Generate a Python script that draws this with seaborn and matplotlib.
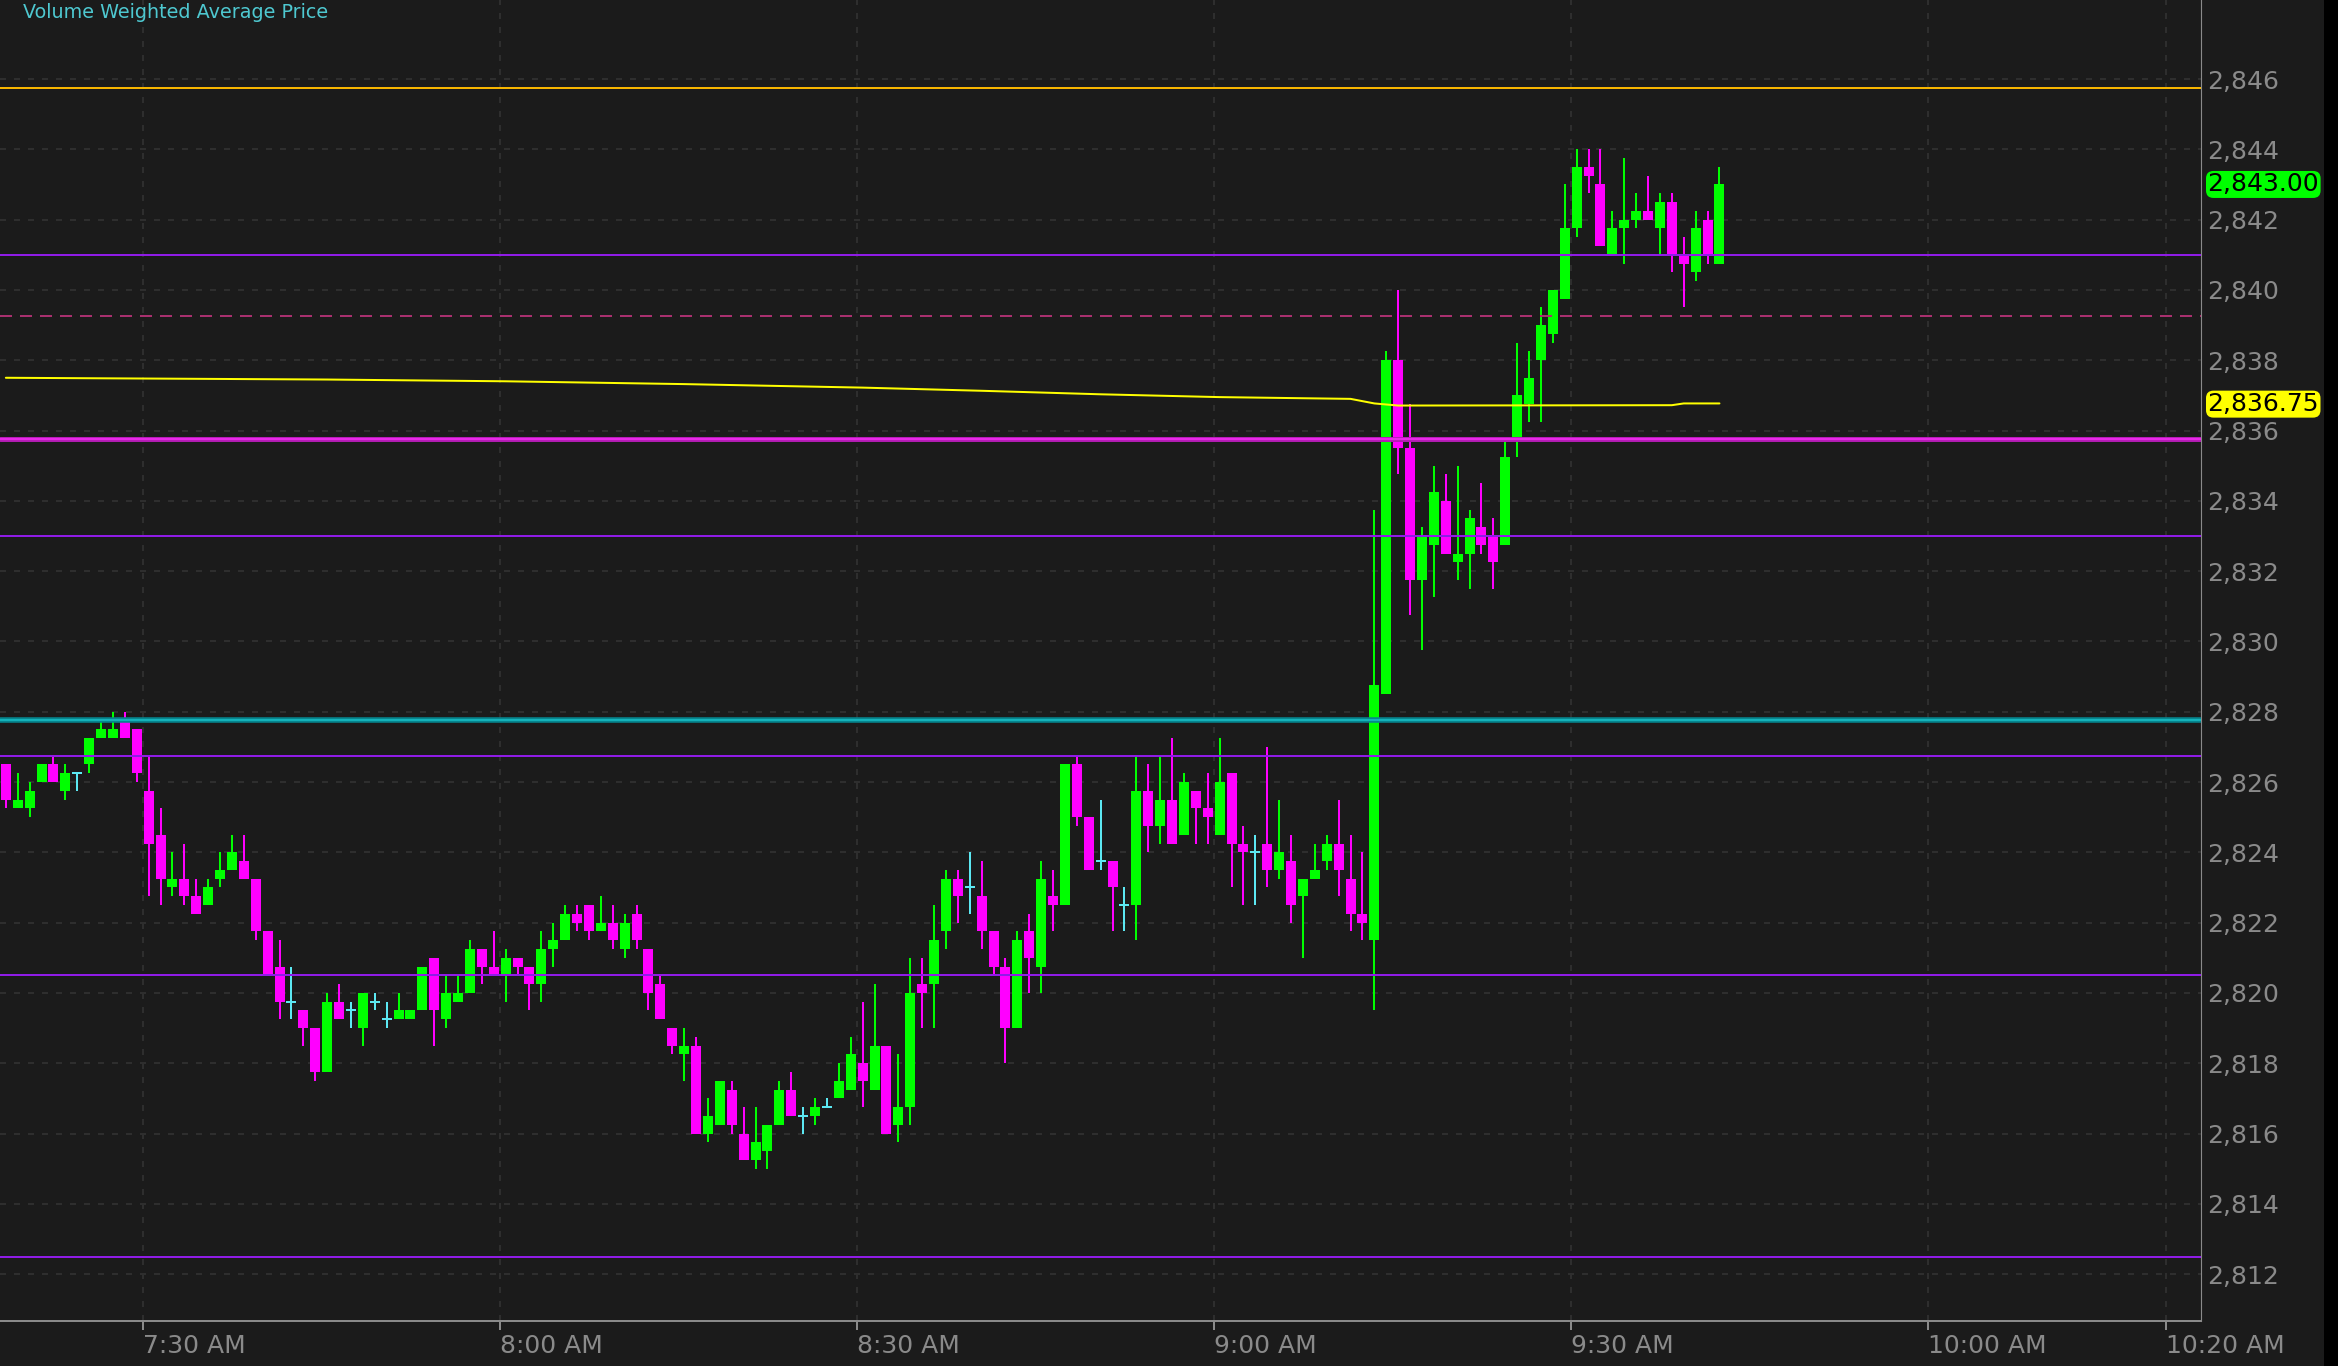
import matplotlib
matplotlib.use("Agg")
import matplotlib.pyplot as plt
import matplotlib.transforms as mtransforms
from matplotlib.patches import Rectangle
import matplotlib.ticker as mticker
import seaborn as sns
import pandas as pd

# 1-minute bars, first bar at 7:18 AM

first_bar = "7:18"

opens = [
    2826.5, 2825.25, 2825.25, 2826.0, 2826.5, 2825.75, 2826.25, 2826.5, 2827.25, 2827.25,
    2827.75, 2827.5, 2825.75, 2824.5, 2823.0, 2823.25, 2822.75, 2822.5, 2823.25, 2823.5,
    2823.75, 2823.25, 2821.75, 2820.75, 2819.75, 2819.5, 2819.0, 2817.75, 2819.75, 2819.5,
    2819.0, 2819.75, 2819.25, 2819.25, 2819.25, 2819.5, 2821.0, 2819.25, 2819.75, 2820.0,
    2821.25, 2820.75, 2820.5, 2821.0, 2820.75, 2820.25, 2821.25, 2821.5, 2822.25, 2822.5,
    2821.75, 2822.0, 2821.25, 2822.25, 2821.25, 2820.25, 2819.0, 2818.25, 2818.5, 2816.0,
    2816.25, 2817.25, 2816.0, 2815.25, 2815.5, 2816.25, 2817.25, 2816.5, 2816.5, 2816.75,
    2817.0, 2817.25, 2818.0, 2817.25, 2818.5, 2816.25, 2816.75, 2820.25, 2820.25, 2821.75,
    2823.25, 2823.0, 2822.75, 2821.75, 2820.75, 2819.0, 2821.75, 2820.75, 2822.75, 2822.5,
    2826.5, 2825.0, 2823.75, 2823.75, 2822.5, 2822.5, 2825.75, 2824.75, 2825.5, 2824.5,
    2825.75, 2825.25, 2824.5, 2826.25, 2824.25, 2824.0, 2824.25, 2823.5, 2823.75, 2822.75,
    2823.25, 2823.75, 2824.25, 2823.25, 2822.25, 2821.5, 2828.5, 2838.0, 2835.5, 2831.75,
    2832.75, 2834.0, 2832.25, 2832.5, 2833.25, 2833.0, 2832.75, 2835.75, 2836.75, 2838.0,
    2838.75, 2839.75, 2841.75, 2843.5, 2843.0, 2841.0, 2841.75, 2842.0, 2842.25, 2841.75,
    2842.5, 2841.0, 2840.5, 2842.0, 2840.75,
]

highs = [
    2826.5, 2826.25, 2826.0, 2826.5, 2826.75, 2826.5, 2826.25, 2827.25, 2827.75, 2828.0,
    2828.0, 2827.5, 2826.75, 2825.25, 2824.0, 2824.25, 2823.25, 2823.25, 2824.0, 2824.5,
    2824.5, 2823.25, 2821.75, 2821.5, 2820.75, 2819.5, 2819.0, 2820.0, 2820.25, 2819.75,
    2820.0, 2820.0, 2819.75, 2820.0, 2819.5, 2820.75, 2821.0, 2820.5, 2820.5, 2821.5,
    2821.25, 2821.75, 2821.25, 2821.0, 2820.75, 2821.75, 2822.0, 2822.5, 2822.5, 2822.5,
    2822.75, 2822.5, 2822.25, 2822.5, 2821.25, 2820.5, 2819.0, 2819.0, 2818.75, 2817.0,
    2817.5, 2817.5, 2816.75, 2816.75, 2816.25, 2817.5, 2817.75, 2816.75, 2817.0, 2817.0,
    2818.0, 2818.75, 2819.75, 2820.25, 2818.5, 2818.25, 2821.0, 2821.0, 2822.5, 2823.5,
    2823.5, 2824.0, 2823.75, 2821.75, 2821.0, 2821.75, 2822.25, 2823.75, 2823.5, 2826.5,
    2826.75, 2825.0, 2825.5, 2823.75, 2823.0, 2826.75, 2826.5, 2826.75, 2827.25, 2826.25,
    2825.75, 2826.25, 2827.25, 2826.25, 2824.75, 2824.5, 2827.0, 2825.5, 2824.5, 2823.25,
    2824.25, 2824.5, 2825.5, 2824.5, 2824.0, 2833.75, 2838.25, 2840.0, 2836.75, 2833.25,
    2835.0, 2834.75, 2835.0, 2833.75, 2834.5, 2833.5, 2835.75, 2838.5, 2838.25, 2839.5,
    2840.0, 2843.0, 2844.0, 2844.0, 2844.0, 2842.25, 2843.75, 2842.75, 2843.25, 2842.75,
    2842.75, 2841.5, 2842.25, 2842.25, 2843.5,
]

lows = [
    2825.25, 2825.25, 2825.0, 2826.0, 2826.0, 2825.5, 2825.75, 2826.25, 2827.25, 2827.25,
    2827.25, 2826.0, 2822.75, 2822.5, 2822.75, 2822.5, 2822.25, 2822.5, 2823.0, 2823.5,
    2823.25, 2821.5, 2820.5, 2819.25, 2819.25, 2818.5, 2817.5, 2817.75, 2819.25, 2819.0,
    2818.5, 2819.5, 2819.0, 2819.25, 2819.25, 2819.5, 2818.5, 2819.0, 2819.75, 2820.0,
    2820.25, 2820.5, 2819.75, 2820.5, 2819.5, 2819.75, 2820.75, 2821.5, 2821.75, 2821.5,
    2821.75, 2821.25, 2821.0, 2821.25, 2819.5, 2819.25, 2818.25, 2817.5, 2816.0, 2815.75,
    2816.25, 2816.0, 2815.25, 2815.0, 2815.0, 2816.25, 2816.5, 2816.0, 2816.25, 2816.75,
    2817.0, 2817.25, 2816.75, 2817.25, 2816.0, 2815.75, 2816.25, 2819.0, 2819.0, 2821.25,
    2822.0, 2822.25, 2821.25, 2820.5, 2818.0, 2819.0, 2820.0, 2820.0, 2821.75, 2822.5,
    2824.75, 2823.5, 2823.5, 2821.75, 2821.75, 2821.5, 2824.0, 2824.25, 2824.25, 2824.5,
    2824.25, 2824.25, 2824.5, 2823.0, 2822.5, 2822.5, 2823.0, 2823.25, 2822.0, 2821.0,
    2823.25, 2823.5, 2822.75, 2821.75, 2821.5, 2819.5, 2828.5, 2834.75, 2830.75, 2829.75,
    2831.25, 2832.5, 2831.75, 2831.5, 2832.5, 2831.5, 2832.75, 2835.25, 2836.25, 2836.25,
    2838.5, 2839.75, 2841.5, 2842.75, 2841.25, 2841.0, 2840.75, 2841.75, 2842.0, 2841.0,
    2840.5, 2839.5, 2840.25, 2840.75, 2840.75,
]

closes = [
    2825.5, 2825.5, 2825.75, 2826.5, 2826.0, 2826.25, 2826.25, 2827.25, 2827.5, 2827.5,
    2827.25, 2826.25, 2824.25, 2823.25, 2823.25, 2822.75, 2822.25, 2823.0, 2823.5, 2824.0,
    2823.25, 2821.75, 2820.5, 2819.75, 2819.75, 2819.0, 2817.75, 2819.75, 2819.25, 2819.5,
    2820.0, 2819.75, 2819.25, 2819.5, 2819.5, 2820.75, 2819.5, 2820.0, 2820.0, 2821.25,
    2820.75, 2820.5, 2821.0, 2820.75, 2820.25, 2821.25, 2821.5, 2822.25, 2822.0, 2821.75,
    2822.0, 2821.5, 2822.0, 2821.5, 2820.0, 2819.25, 2818.5, 2818.5, 2816.0, 2816.5,
    2817.5, 2816.25, 2815.25, 2815.75, 2816.25, 2817.25, 2816.5, 2816.5, 2816.75, 2816.75,
    2817.5, 2818.25, 2817.5, 2818.5, 2816.0, 2816.75, 2820.0, 2820.0, 2821.5, 2823.25,
    2822.75, 2823.0, 2821.75, 2820.75, 2819.0, 2821.5, 2821.0, 2823.25, 2822.5, 2826.5,
    2825.0, 2823.5, 2823.75, 2823.0, 2822.5, 2825.75, 2824.75, 2825.5, 2824.25, 2826.0,
    2825.25, 2825.0, 2826.0, 2824.25, 2824.0, 2824.0, 2823.5, 2824.0, 2822.5, 2823.25,
    2823.5, 2824.25, 2823.5, 2822.25, 2822.0, 2828.75, 2838.0, 2835.5, 2831.75, 2833.0,
    2834.25, 2832.5, 2832.5, 2833.5, 2832.75, 2832.25, 2835.25, 2837.0, 2837.5, 2839.0,
    2840.0, 2841.75, 2843.5, 2843.25, 2841.25, 2841.75, 2842.0, 2842.25, 2842.0, 2842.5,
    2841.0, 2840.75, 2841.75, 2841.0, 2843.0,
]

# Volume weighted average price, read at a few bar times

vwap_times = ["7:18", "7:45", "8:00", "8:15", "8:30", "8:40", "8:50", "9:00",
              "9:11", "9:13", "9:15", "9:38", "9:39", "9:42"]
vwap_values = [2837.50, 2837.45, 2837.40, 2837.32, 2837.22, 2837.13, 2837.03, 2836.95,
               2836.90, 2836.77, 2836.71, 2836.72, 2836.77, 2836.77]

# Horizontal price levels

gold_level = 2845.75
purple_levels = [2841.0, 2833.0, 2826.75, 2820.5, 2812.5]
dashed_level = 2839.25
magenta_level = 2835.75
cyan_level = 2827.75

# Axis ticks

x_tick_times = ["7:30", "8:00", "8:30", "9:00", "9:30", "10:00", "10:20"]
x_tick_labels = ["7:30 AM", "8:00 AM", "8:30 AM", "9:00 AM", "9:30 AM", "10:00 AM", "10:20 AM"]
y_ticks = list(range(2812, 2847, 2))


def to_minutes(label):
    h, m = label.split(":")
    return int(h) * 60 + int(m)


start = to_minutes(first_bar)

bars = pd.DataFrame({
    "minute": [start + i for i in range(len(opens))],
    "open": opens,
    "high": highs,
    "low": lows,
    "close": closes,
})
bars["x"] = bars["minute"] + 0.5

vwap = pd.DataFrame({
    "x": [to_minutes(t) + 0.5 for t in vwap_times],
    "vwap": vwap_values,
})

# Style

BG = "#1b1b1b"
GREEN = "#00ff00"
MAGENTA = "#ff00ff"
DOJI = "#5ce8f2"
AXIS_GREY = "#8a8a8a"

sns.set_style("dark", {
    "axes.facecolor": BG,
    "figure.facecolor": BG,
    "axes.edgecolor": AXIS_GREY,
})
plt.rcParams["font.family"] = ["DejaVu Sans"]

W, H = 2338, 1366
fig = plt.figure(figsize=(W / 100, H / 100), dpi=100)
ax = fig.add_axes([0, 45 / H, 2201 / W, 1321 / H])

# Candles

up = bars[bars["close"] > bars["open"]]
down = bars[bars["close"] < bars["open"]]
doji = bars[bars["close"] == bars["open"]]

body_w = 0.84
wick_lw = 1.44

for part, col in [(up, GREEN), (down, MAGENTA), (doji, DOJI)]:
    ax.vlines(part["x"], part["low"], part["high"], colors=col,
              linewidth=wick_lw, zorder=3)

ax.bar(up["x"], up["close"] - up["open"], bottom=up["open"],
       width=body_w, color=GREEN, linewidth=0, zorder=3)
ax.bar(down["x"], down["open"] - down["close"], bottom=down["close"],
       width=body_w, color=MAGENTA, linewidth=0, zorder=3)
ax.hlines(doji["open"], doji["x"] - body_w / 2, doji["x"] + body_w / 2,
          colors=DOJI, linewidth=wick_lw, zorder=3)

# Levels

ax.axhline(gold_level, color="#f7b500", linewidth=1.44, zorder=4)
for lvl in purple_levels:
    ax.axhline(lvl, color="#8f1ce6", linewidth=1.44, zorder=4)
ax.axhline(dashed_level, color="#a8306e", linewidth=1.44,
           linestyle=(0, (6, 4)), zorder=4)
ax.axhline(magenta_level, color="#b01cb0", linewidth=3.6, zorder=4)
ax.axhline(magenta_level, color="#e828e8", linewidth=1.6, zorder=4)
ax.axhline(cyan_level, color="#06858e", linewidth=4.0, zorder=4)
ax.axhline(cyan_level, color="#14b2ba", linewidth=1.5, zorder=4)

# VWAP line

sns.lineplot(data=vwap, x="x", y="vwap", ax=ax, color="#ffff00",
             linewidth=1.44, zorder=5, legend=False)

# Axes

ax.set_xlim(450 - 142.7 / 11.9, 450 + (2201 - 142.7) / 11.9)
ax.set_ylim(2846 - 1242 / 35.15, 2846 + 79 / 35.15)

ax.set_xticks([to_minutes(t) for t in x_tick_times])
ax.set_xticklabels(x_tick_labels)
for lbl in ax.get_xticklabels():
    lbl.set_horizontalalignment("left")

ax.yaxis.tick_right()
ax.set_yticks(y_ticks)
ax.yaxis.set_major_formatter(mticker.FuncFormatter(lambda v, p: f"{v:,.0f}"))

ax.tick_params(axis="x", colors=AXIS_GREY, labelcolor=AXIS_GREY, labelsize=18,
               length=6.5, width=1.44, pad=3, direction="out", bottom=True)
ax.tick_params(axis="y", labelcolor=AXIS_GREY, labelsize=18, length=0, pad=4.3)

ax.set_xlabel("")
ax.set_ylabel("")

ax.grid(True, color="#2e2e2e", linestyle=(0, (3, 4)), linewidth=1.44)
ax.set_axisbelow(True)

ax.spines["left"].set_visible(False)
ax.spines["top"].set_visible(False)
ax.spines["right"].set_color(AXIS_GREY)
ax.spines["right"].set_linewidth(0.8)
ax.spines["bottom"].set_color(AXIS_GREY)
ax.spines["bottom"].set_linewidth(1.44)

# Price tags on the right axis

tag_tr = mtransforms.blended_transform_factory(ax.transAxes, ax.transData)
last_close = closes[-1]
last_vwap = round(vwap_values[-1] * 4) / 4

ax.text(2207.5 / 2201, last_close, f"{last_close:,.2f}", transform=tag_tr,
        ha="left", va="center", fontsize=18, color="black", zorder=6,
        bbox=dict(boxstyle="round,pad=0.06,rounding_size=0.3",
                  facecolor=GREEN, edgecolor="none"))
ax.text(2207.5 / 2201, last_vwap, f"{last_vwap:,.2f}", transform=tag_tr,
        ha="left", va="center", fontsize=18, color="black", zorder=6,
        bbox=dict(boxstyle="round,pad=0.06,rounding_size=0.3",
                  facecolor="#ffff00", edgecolor="none"))

# Study title

fig.text(22.7 / W, 1 - 18 / H, "Volume Weighted Average Price",
         color="#4ec8d0", fontsize=13.8, ha="left", va="baseline")

# Black strip at the right edge

fig.patches.append(Rectangle((2324 / W, 0), 14 / W, 1, transform=fig.transFigure,
                             facecolor="black", edgecolor="none"))

fig.savefig("out.png", dpi=100, facecolor=BG)
